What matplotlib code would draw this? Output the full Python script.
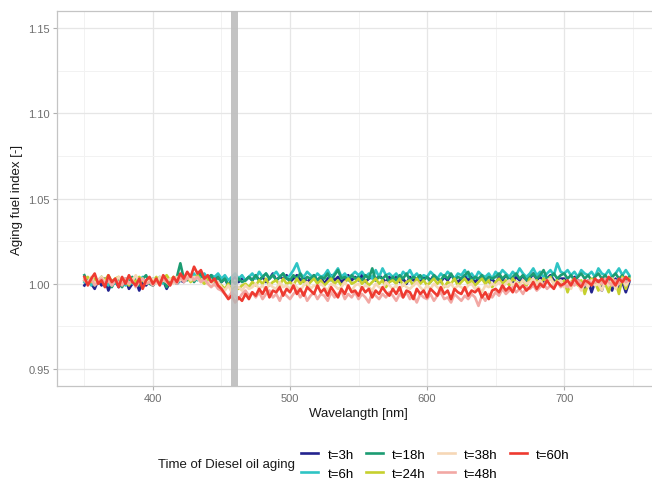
import numpy as np
import matplotlib
matplotlib.use("Agg")
from matplotlib import pyplot as plt
from matplotlib.ticker import MultipleLocator

plt.rcParams['font.family'] = ['Liberation Sans', 'DejaVu Sans']

# wavelength grid of the spectra, nm
wl = np.arange(350, 750, 2.5)

labels = ['t=3h', 't=6h', 't=18h', 't=24h', 't=38h', 't=48h', 't=60h']
colors = ['#23238E', '#2EC4C4', '#1C9C72', '#C6D02E', '#F6D7B6', '#F2A8A4', '#EE3A30']

t3 = [0.999, 1.003, 1.000, 0.997, 1.002, 0.999, 1.003, 0.996, 1.001, 1.002,
      0.998, 1.001, 1.003, 0.997, 1.000, 1.002, 0.996, 1.001, 0.999, 1.002,
      0.999, 1.003, 1.000, 1.002, 0.997, 1.001, 1.003, 1.000, 1.002, 1.001,
      1.004, 1.002, 1.005, 1.003, 1.006, 1.004, 1.002, 1.005, 1.003, 1.004,
      1.001, 1.003, 0.999, 1.002, 1.004, 1.001, 1.003, 1.002, 1.004, 1.002,
      1.005, 1.002, 1.004, 1.001, 1.003, 1.006, 1.002, 1.004, 1.003, 1.005,
      1.001, 1.003, 1.005, 1.002, 1.004, 1.001, 1.003, 1.005, 1.002, 1.004,
      1.000, 1.003, 1.005, 1.002, 1.004, 1.001, 1.003, 1.005, 1.002, 1.004,
      1.002, 1.005, 1.001, 1.003, 1.004, 1.002, 1.005, 1.003, 1.001, 1.004,
      1.002, 1.004, 1.001, 1.003, 1.000, 1.004, 1.002, 1.003, 1.001, 1.004,
      1.004, 1.002, 1.005, 1.003, 1.001, 1.004, 1.002, 1.005, 1.003, 1.001,
      1.003, 1.005, 1.002, 1.004, 1.001, 1.003, 1.004, 1.002, 1.001, 1.003,
      1.000, 1.004, 1.002, 1.005, 1.003, 1.001, 1.004, 1.002, 1.005, 1.001,
      1.003, 1.006, 1.002, 1.004, 1.001, 1.003, 1.005, 1.002, 1.001, 1.003,
      1.003, 1.000, 0.999, 1.004, 1.002, 1.001, 0.996, 1.002, 0.995, 1.001,
      1.002, 0.996, 1.003, 1.000, 0.996, 1.003, 0.997, 1.001, 0.995, 1.001]
t6 = [1.001, 1.003, 0.999, 1.002, 1.000, 1.003, 1.001, 0.999, 1.002, 1.000,
      1.003, 1.001, 0.999, 1.002, 1.000, 1.003, 1.001, 1.004, 1.000, 1.002,
      1.003, 1.001, 1.004, 1.000, 1.002, 1.001, 1.003, 1.000, 1.002, 1.004,
      1.005, 1.003, 1.006, 1.002, 1.004, 1.006, 1.003, 1.005, 1.004, 1.006,
      1.003, 1.005, 1.002, 1.004, 1.006, 1.003, 1.005, 1.002, 1.004, 1.006,
      1.003, 1.007, 1.004, 1.006, 1.003, 1.005, 1.007, 1.004, 1.006, 1.003,
      1.005, 1.008, 1.012, 1.006, 1.004, 1.007, 1.005, 1.003, 1.006, 1.004,
      1.005, 1.008, 1.004, 1.006, 1.009, 1.004, 1.006, 1.003, 1.005, 1.007,
      1.005, 1.007, 1.004, 1.006, 1.003, 1.008, 1.004, 1.009, 1.005, 1.006,
      1.004, 1.006, 1.003, 1.007, 1.005, 1.008, 1.004, 1.006, 1.003, 1.005,
      1.004, 1.007, 1.005, 1.003, 1.006, 1.004, 1.007, 1.005, 1.003, 1.006,
      1.005, 1.008, 1.004, 1.006, 1.003, 1.007, 1.005, 1.004, 1.006, 1.003,
      1.007, 1.005, 1.008, 1.006, 1.004, 1.007, 1.005, 1.009, 1.006, 1.004,
      1.006, 1.009, 1.005, 1.007, 1.004, 1.006, 1.008, 1.005, 1.012, 1.007,
      1.006, 1.008, 1.005, 1.007, 1.004, 1.008, 1.006, 1.005, 1.007, 1.004,
      1.009, 1.006, 1.005, 1.008, 1.004, 1.006, 1.009, 1.005, 1.008, 1.005]
t18 = [1.005, 1.001, 1.003, 0.999, 1.002, 1.004, 1.000, 1.003, 0.998, 1.002,
       1.001, 0.998, 1.003, 1.000, 1.004, 1.001, 0.999, 1.003, 1.005, 1.000,
       0.999, 1.002, 1.000, 1.003, 0.998, 1.002, 1.001, 1.004, 1.012, 1.003,
       1.002, 1.005, 1.001, 1.004, 1.006, 1.002, 1.003, 1.005, 1.001, 1.004,
       1.001, 1.003, 0.999, 1.002, 1.000, 1.003, 1.001, 1.002, 1.004, 1.002,
       1.005, 1.002, 1.004, 1.006, 1.003, 1.005, 1.002, 1.004, 1.006, 1.003,
       1.002, 1.005, 1.003, 1.006, 1.001, 1.004, 1.003, 1.005, 1.002, 1.004,
       1.003, 1.006, 1.002, 1.005, 1.008, 1.003, 1.004, 1.002, 1.005, 1.003,
       1.004, 1.002, 1.005, 1.003, 1.009, 1.002, 1.004, 1.003, 1.005, 1.001,
       1.004, 1.002, 1.005, 1.003, 1.006, 1.002, 1.004, 1.003, 1.005, 1.002,
       1.004, 1.001, 1.005, 1.003, 1.002, 1.005, 1.003, 1.006, 1.002, 1.004,
       1.003, 1.005, 1.007, 1.002, 1.004, 1.003, 1.005, 1.002, 1.004, 1.003,
       1.004, 1.006, 1.003, 1.005, 1.002, 1.004, 1.006, 1.003, 1.005, 1.002,
       1.004, 1.006, 1.003, 1.005, 1.008, 1.003, 1.004, 1.006, 1.003, 1.005,
       1.006, 1.003, 1.005, 1.002, 1.004, 1.006, 1.003, 1.005, 1.002, 1.004,
       1.006, 1.003, 1.005, 1.002, 1.004, 1.006, 1.003, 1.005, 1.002, 1.004]
t24 = [1.002, 1.004, 1.001, 1.003, 1.000, 1.004, 1.002, 1.005, 1.001, 1.003,
       1.004, 1.000, 1.002, 0.999, 1.003, 1.001, 1.004, 1.002, 1.000, 1.003,
       1.001, 1.004, 1.000, 1.003, 1.005, 1.002, 1.004, 1.001, 1.003, 1.002,
       1.004, 1.001, 1.003, 1.005, 1.002, 1.000, 1.003, 1.001, 1.002, 1.000,
       0.999, 0.997, 1.000, 0.996, 0.998, 0.997, 0.999, 1.000, 0.998, 1.001,
       0.999, 1.002, 1.000, 1.003, 0.999, 1.001, 1.002, 0.999, 1.003, 1.000,
       1.001, 0.999, 1.003, 1.000, 1.002, 0.999, 1.001, 1.003, 1.000, 1.002,
       0.999, 1.001, 1.003, 1.000, 1.002, 0.999, 1.001, 1.003, 1.000, 1.001,
       1.003, 1.000, 1.002, 0.999, 1.001, 1.003, 1.000, 1.002, 0.998, 1.001,
       1.002, 1.000, 1.003, 0.999, 1.001, 1.002, 0.999, 1.003, 1.000, 1.002,
       0.999, 1.001, 1.003, 1.000, 1.002, 0.998, 1.001, 1.000, 1.003, 0.999,
       1.001, 1.003, 1.000, 1.002, 0.999, 1.001, 1.003, 1.000, 1.002, 0.998,
       1.001, 1.003, 1.000, 1.002, 0.999, 1.003, 1.001, 1.000, 1.002, 0.999,
       1.003, 1.001, 1.002, 1.000, 1.003, 1.001, 1.004, 1.000, 1.002, 0.999,
       1.002, 0.995, 1.001, 1.003, 0.999, 1.002, 0.994, 1.000, 1.003, 1.001,
       0.996, 1.002, 1.000, 0.995, 1.003, 1.001, 0.994, 1.004, 0.997, 1.003]
t38 = [1.003, 1.001, 1.004, 1.000, 1.002, 1.004, 1.001, 1.003, 0.999, 1.002,
       1.004, 1.001, 1.003, 1.000, 1.002, 1.005, 1.001, 1.003, 1.000, 1.002,
       1.003, 1.000, 1.004, 1.002, 1.001, 1.003, 1.000, 1.004, 1.002, 1.003,
       1.005, 1.002, 1.004, 1.003, 1.001, 1.003, 1.000, 1.002, 0.999, 1.001,
       0.998, 0.996, 0.999, 0.995, 0.997, 0.998, 0.996, 0.999, 0.997, 0.998,
       1.000, 0.997, 0.999, 0.996, 1.000, 0.998, 0.997, 1.001, 0.998, 0.999,
       0.997, 1.000, 0.998, 0.996, 0.999, 1.001, 0.997, 0.999, 0.998, 1.000,
       0.998, 0.996, 1.000, 0.999, 0.997, 0.998, 1.001, 0.998, 0.996, 0.999,
       1.000, 0.997, 0.999, 0.998, 0.996, 1.000, 0.998, 0.997, 1.001, 0.999,
       0.997, 0.999, 0.996, 1.000, 0.998, 0.997, 0.999, 1.001, 0.998, 0.996,
       0.999, 0.997, 1.000, 0.998, 0.996, 0.999, 0.998, 1.000, 0.997, 0.999,
       0.998, 0.996, 0.999, 1.000, 0.997, 0.998, 0.995, 0.999, 0.998, 1.000,
       0.999, 1.001, 0.998, 1.000, 1.002, 0.999, 1.001, 0.999, 1.002, 1.000,
       1.001, 1.003, 1.000, 1.002, 0.999, 1.002, 1.003, 1.000, 1.001, 1.002,
       0.998, 1.001, 0.997, 1.002, 1.000, 0.996, 1.001, 0.998, 1.002, 0.999,
       1.000, 0.996, 1.002, 0.999, 1.003, 0.997, 1.001, 1.003, 0.999, 1.002]
t48 = [1.002, 1.000, 1.003, 0.999, 1.001, 1.003, 1.000, 1.002, 0.999, 1.002,
       1.001, 0.999, 1.003, 1.000, 1.002, 0.998, 1.001, 1.003, 1.000, 1.001,
       0.999, 1.002, 1.000, 1.003, 1.001, 0.999, 1.002, 1.000, 1.004, 1.001,
       1.003, 1.005, 1.002, 1.004, 1.001, 1.003, 1.000, 0.998, 1.000, 0.997,
       0.996, 0.994, 0.992, 0.995, 0.993, 0.991, 0.994, 0.996, 0.993, 0.995,
       0.992, 0.995, 0.991, 0.994, 0.996, 0.992, 0.994, 0.990, 0.995, 0.993,
       0.991, 0.994, 0.996, 0.992, 0.995, 0.990, 0.993, 0.995, 0.991, 0.994,
       0.993, 0.990, 0.995, 0.992, 0.994, 0.996, 0.991, 0.994, 0.992, 0.995,
       0.991, 0.994, 0.992, 0.989, 0.995, 0.993, 0.991, 0.994, 0.992, 0.995,
       0.993, 0.990, 0.994, 0.992, 0.995, 0.991, 0.993, 0.989, 0.994, 0.992,
       0.991, 0.994, 0.990, 0.993, 0.995, 0.991, 0.992, 0.989, 0.994, 0.992,
       0.990, 0.993, 0.991, 0.994, 0.992, 0.987, 0.993, 0.990, 0.994, 0.992,
       0.995, 0.993, 0.997, 0.994, 0.996, 0.998, 0.995, 0.997, 0.994, 0.998,
       0.997, 0.999, 0.996, 0.998, 1.000, 0.997, 0.999, 0.998, 1.001, 0.998,
       1.000, 0.998, 1.001, 0.999, 1.002, 1.000, 0.999, 1.002, 1.000, 1.001,
       1.002, 1.000, 1.003, 1.001, 0.999, 1.002, 1.000, 1.003, 1.001, 1.002]
t60 = [1.004, 0.999, 1.003, 1.006, 1.000, 1.002, 0.998, 1.005, 1.001, 1.003,
       0.998, 1.004, 1.000, 1.005, 1.001, 0.999, 1.003, 0.997, 1.002, 1.004,
       1.000, 1.003, 0.999, 1.005, 1.002, 0.999, 1.004, 1.001, 1.006, 1.003,
       1.007, 1.004, 1.010, 1.006, 1.008, 1.003, 1.005, 1.001, 1.003, 0.999,
       0.997, 0.994, 0.991, 0.993, 0.989, 0.992, 0.990, 0.994, 0.991, 0.995,
       0.993, 0.997, 0.994, 0.998, 0.992, 0.996, 0.995, 0.998, 0.993, 0.997,
       0.995, 0.999, 0.994, 0.997, 0.993, 0.998, 0.996, 0.994, 0.999, 0.995,
       0.997, 0.993, 0.998, 0.995, 0.992, 0.997, 0.994, 0.999, 0.995, 0.996,
       0.993, 0.998, 0.995, 0.997, 0.992, 0.996, 0.994, 0.998, 0.995, 0.993,
       0.997, 0.994, 0.998, 0.992, 0.996, 0.995, 0.991, 0.997, 0.994, 0.996,
       0.992, 0.997, 0.995, 0.993, 0.998, 0.994, 0.996, 0.991, 0.997, 0.995,
       0.994, 0.998, 0.993, 0.996, 0.995, 0.997, 0.992, 0.995, 0.991, 0.996,
       0.997, 0.995, 0.999, 0.996, 0.998, 0.995, 1.000, 0.997, 0.999, 0.996,
       0.998, 1.001, 0.997, 1.000, 0.998, 1.002, 0.999, 0.997, 1.001, 0.999,
       1.000, 1.002, 0.999, 1.003, 1.000, 0.998, 1.002, 1.001, 0.999, 1.003,
       1.001, 1.003, 1.000, 1.004, 1.002, 0.999, 1.003, 1.001, 1.004, 1.002]
series = [t3, t6, t18, t24, t38, t48, t60]

# marked wavelength band, nm
band = (457, 462)

fig = plt.figure(figsize=(6.52, 4.81), dpi=100)
ax = fig.add_axes([0.0874, 0.1954, 0.925, 0.7796])

for vals, lab, col in zip(series, labels, colors):
    ax.plot(wl, vals, color=col, lw=1.9, label=lab, zorder=3)

ax.axvspan(band[0], band[1], color='#BDBDBD', alpha=0.9, lw=0, zorder=4)

ax.set_xlim(330, 770)
ax.set_ylim(0.94, 1.16)
ax.xaxis.set_major_locator(MultipleLocator(100))
ax.xaxis.set_minor_locator(MultipleLocator(50))
ax.yaxis.set_major_locator(MultipleLocator(0.05))
ax.yaxis.set_minor_locator(MultipleLocator(0.025))
ax.yaxis.set_major_formatter(plt.FuncFormatter(lambda v, p: f'{v:.2f}'))

ax.grid(True, which='major', color='#E6E6E6', lw=0.9, zorder=0)
ax.grid(True, which='minor', color='#F2F2F2', lw=0.7, zorder=0)
ax.set_axisbelow(True)
for s in ax.spines.values():
    s.set_color('#C4C4C4')
    s.set_linewidth(0.9)
ax.spines['right'].set_visible(False)
ax.tick_params(which='major', length=3, width=0.8, color='#B0B0B0',
               labelcolor='#6E6E6E', labelsize=8, pad=2)
ax.tick_params(which='minor', length=0)

ax.set_xlabel('Wavelangth [nm]', fontsize=9.5, color='#1A1A1A', labelpad=3)
ax.set_ylabel('Aging fuel index [-]', fontsize=9.5, color='#1A1A1A', labelpad=4)

handles, labs = ax.get_legend_handles_labels()
fig.legend(handles, labs, ncol=4, loc='center left',
           bbox_to_anchor=(0.462, 0.033), frameon=False, fontsize=9.5,
           handlelength=1.3, handletextpad=0.7, columnspacing=0.9,
           labelspacing=0.5, borderpad=0, borderaxespad=0)
fig.text(0.453, 0.033, 'Time of Diesel oil aging', ha='right', va='center',
         fontsize=9.5, color='#1A1A1A')

fig.savefig('out.png', dpi=100)
